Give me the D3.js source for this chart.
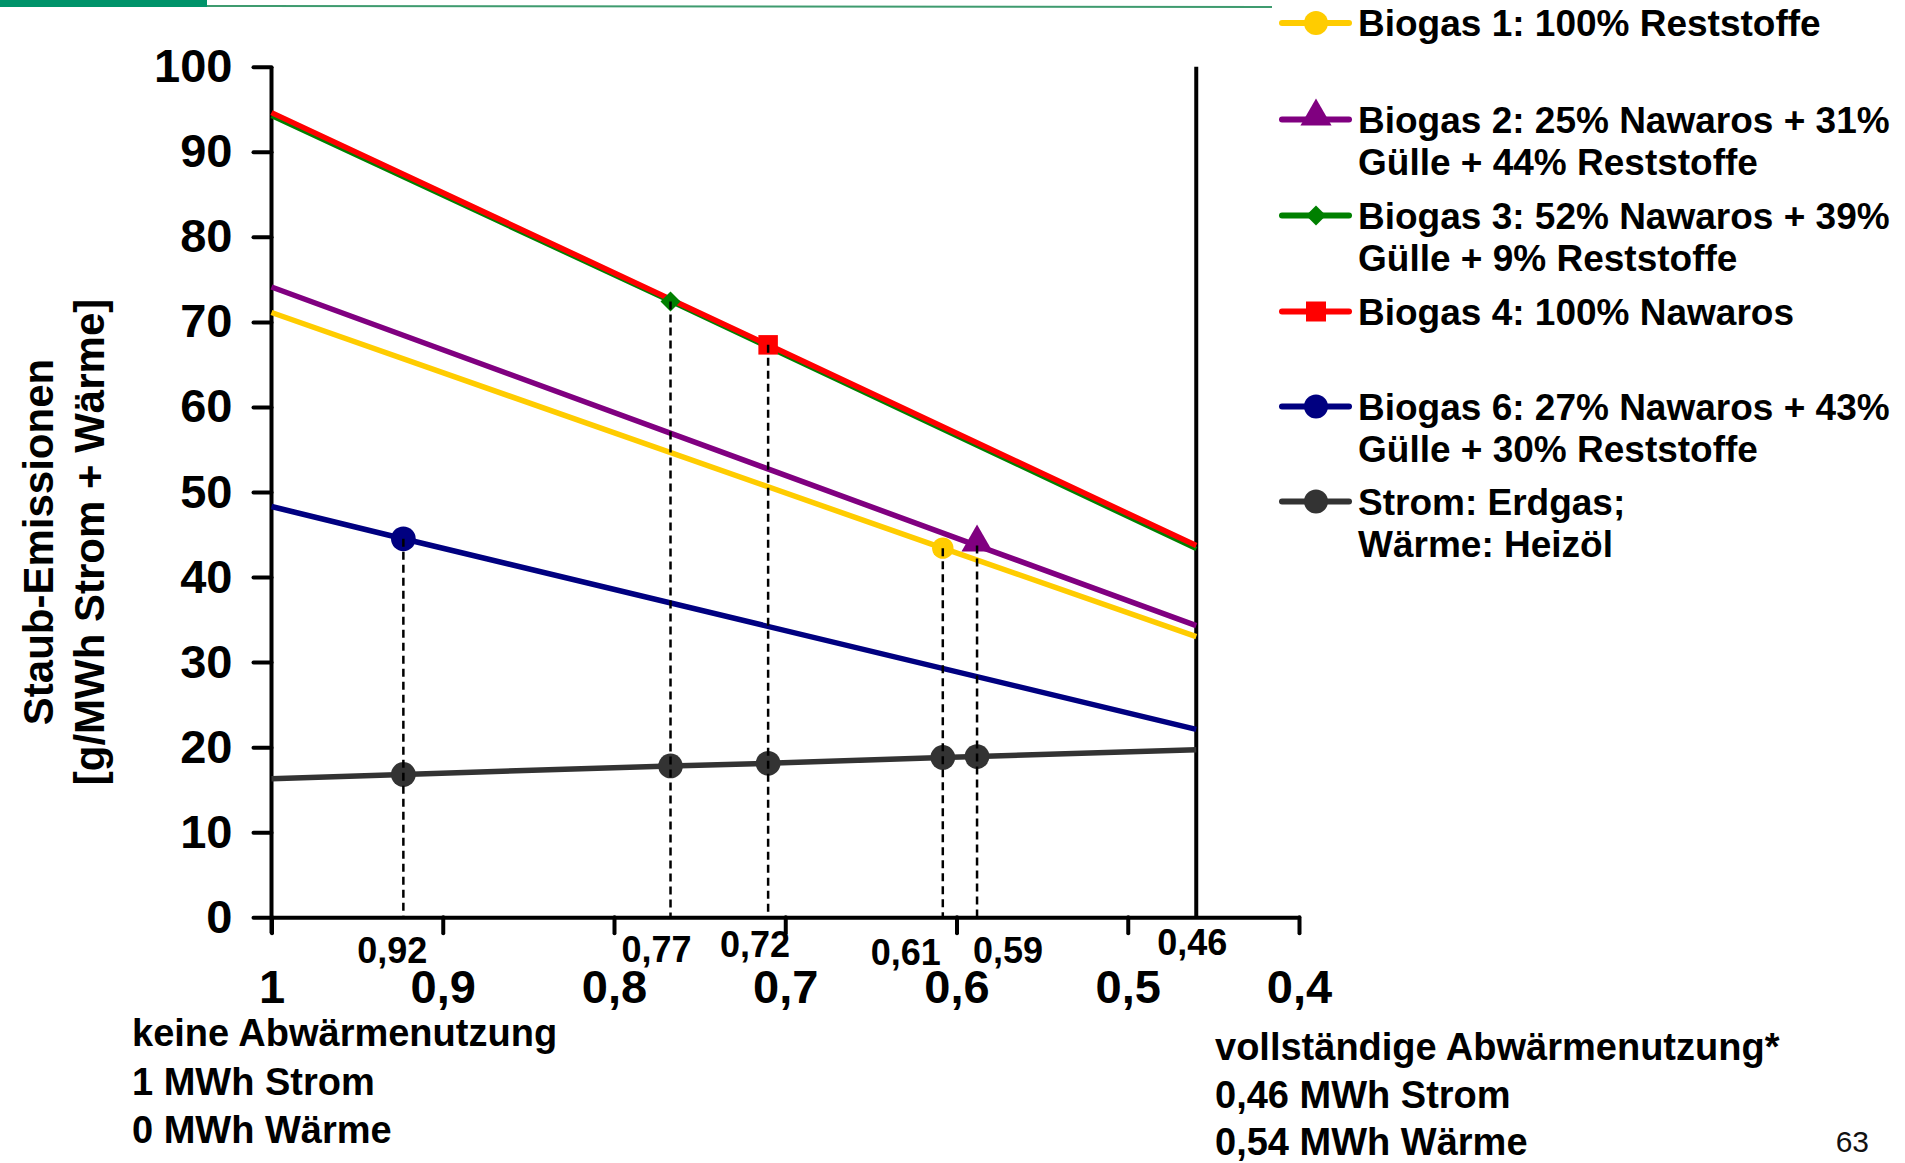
<!DOCTYPE html>
<html><head><meta charset="utf-8">
<script src="https://cdn.jsdelivr.net/npm/d3@7"></script>
<style>
html,body{margin:0;padding:0;background:#fff;overflow:hidden;}
svg{display:block;font-family:"Liberation Sans",Arial,Helvetica,sans-serif;}
</style></head><body>
<svg id="chart" width="1905" height="1163"></svg>
<script>
// ---------------- DATA ----------------
const seriesNames = [
  ["Biogas 1: 100% Reststoffe"],
  ["Biogas 2: 25% Nawaros + 31%", "Gülle + 44% Reststoffe"],
  ["Biogas 3: 52% Nawaros + 39%", "Gülle + 9% Reststoffe"],
  ["Biogas 4: 100% Nawaros"],
  ["Biogas 6: 27% Nawaros + 43%", "Gülle + 30% Reststoffe"],
  ["Strom: Erdgas;", "Wärme: Heizöl"]
];
const seriesColors = ["#FFCC00", "#800080", "#008000", "#FF0000", "#000080", "#333333"];
const seriesSymbols = ["circle", "triangle", "diamond", "square", "circle", "circle"];

// x = MWh Strom (1 → 0.46), y = Staub-Emissionen [g/MWh]
const biogas1X = [1, 0.608, 0.46];
const biogas1Y = [71.1, 43.4, 33.0];
const biogas2X = [1, 0.588, 0.46];
const biogas2Y = [74.1, 43.7, 34.3];
const biogas3X = [1, 0.767, 0.46];
const biogas3Y = [94.2, 72.4, 43.3];
const biogas4X = [1, 0.71, 0.46];
const biogas4Y = [94.6, 67.3, 43.7];
const biogas6X = [1, 0.923, 0.46];
const biogas6Y = [48.3, 44.5, 22.1];
const stromX = [1, 0.923, 0.767, 0.71, 0.608, 0.588, 0.46];
const stromY = [16.3, 16.8, 17.8, 18.1, 18.8, 18.9, 19.7];

// indices of points that carry a marker
const markerIdx = [[1], [1], [1], [1], [1], [1, 2, 3, 4, 5]];

const xTicks = [1, 0.9, 0.8, 0.7, 0.6, 0.5, 0.4];
const xTickLabels = ["1", "0,9", "0,8", "0,7", "0,6", "0,5", "0,4"];
const yTicks = [0, 10, 20, 30, 40, 50, 60, 70, 80, 90, 100];
const yTickLabels = ["0", "10", "20", "30", "40", "50", "60", "70", "80", "90", "100"];

const fullUseX = 0.46;
const markValues = [0.923, 0.767, 0.71, 0.608, 0.588, 0.46];
const markLabels = ["0,92", "0,77", "0,72", "0,61", "0,59", "0,46"];

const yTitle = ["Staub-Emissionen", "[g/MWh Strom + Wärme]"];
const leftNote = ["keine Abwärmenutzung", "1 MWh Strom", "0 MWh Wärme"];
const rightNote = ["vollständige Abwärmenutzung*", "0,46 MWh Strom", "0,54 MWh Wärme"];
const pageNumber = "63";

// ---------------- LAYOUT ----------------
const markLabelDx = [-11, -14, -13, -37, 31, -4];
const markLabelDy = [46, 45, 40, 48, 46, 38];
const legendRowsY = [23, 119.5, 215.5, 311.5, 406.5, 501.5];

const seriesX = [biogas1X, biogas2X, biogas3X, biogas4X, biogas6X, stromX];
const seriesY = [biogas1Y, biogas2Y, biogas3Y, biogas4Y, biogas6Y, stromY];
const series = seriesNames.map((n, i) => ({
  name: n, color: seriesColors[i], symbol: seriesSymbols[i],
  points: seriesX[i].map((xv, j) => [xv, seriesY[i][j]]),
  markers: markerIdx[i].map(j => [seriesX[i][j], seriesY[i][j]])
}));

const svg = d3.select("#chart");
const x = d3.scaleLinear().domain([1, 0.4]).range([271.5, 1299]);
const y = d3.scaleLinear().domain([0, 100]).range([917.3, 66.7]);

// header bar
svg.append("rect").attr("x", 0).attr("y", 0).attr("width", 207).attr("height", 7).attr("fill", "#00936a");
svg.append("line").attr("x1", 207).attr("x2", 1272).attr("y1", 6).attr("y2", 7)
  .attr("stroke", "#3f9b6f").attr("stroke-width", 2);

// axes
const yAxis = d3.axisLeft(y).tickValues(yTicks).tickFormat((d, i) => yTickLabels[i])
  .tickSize(18).tickSizeOuter(0).tickPadding(21);
const gy = svg.append("g").attr("transform", `translate(${x(1)},0)`).call(yAxis);
const xAxis = d3.axisBottom(x).tickValues(xTicks).tickFormat((d, i) => xTickLabels[i])
  .tickSize(16).tickSizeOuter(0).tickPadding(36);
const gx = svg.append("g").attr("transform", `translate(0,${y(0)})`).call(xAxis);
[gy, gx].forEach(g => {
  g.selectAll("path.domain").attr("stroke", "#000").attr("stroke-width", 4);
  g.selectAll(".tick line").attr("stroke", "#000").attr("stroke-width", 4).attr("stroke-linecap", "round");
  g.selectAll(".tick text").attr("fill", "#000").attr("font-size", 47).attr("font-weight", "bold")
    .attr("font-family", "'Liberation Sans', Arial, sans-serif");
});
// extend y axis down to the "1" tick
gy.select("path.domain").attr("d", `M0,${y(100)}V${y(0) + 16}`);

// vertical line at full heat usage
svg.append("line").attr("x1", x(fullUseX)).attr("x2", x(fullUseX))
  .attr("y1", y(100)).attr("y2", y(0)).attr("stroke", "#000").attr("stroke-width", 4);

// series lines (draw order: gray, navy, yellow, purple, green, red)
const order = [5, 4, 0, 1, 2, 3];
const line = d3.line().x(d => x(d[0])).y(d => y(d[1]));
const symType = {circle: d3.symbolCircle, triangle: d3.symbolTriangle, diamond: d3.symbolSquare, square: d3.symbolSquare};
const symSizeLegend = {circle: 452, triangle: 420, diamond: 200, square: 400};
const symSizeChart = [360, 420, 200, 380, 480, 480];
function symbolPath(s, size) {
  return d3.symbol().type(symType[s]).size(size)();
}
function symTransform(s, px, py) {
  return `translate(${px},${py})` + (s === "diamond" ? " rotate(45)" : "") + (s === "triangle" ? " translate(0,-3)" : "");
}
order.forEach(i => {
  const s = series[i];
  svg.append("path").datum(s.points).attr("d", line).attr("fill", "none")
    .attr("stroke", s.color).attr("stroke-width", i === 2 ? 4.5 : 5.5);
});
order.forEach(i => {
  const s = series[i];
  svg.selectAll(null).data(s.markers).enter().append("path")
    .attr("d", symbolPath(s.symbol, symSizeChart[i]))
    .attr("transform", d => symTransform(s.symbol, x(d[0]), y(d[1])))
    .attr("fill", s.color);
});

// dashed drop lines from the biogas markers
const drops = series.slice(0, 5).map(s => s.markers[0]);
svg.selectAll(null).data(drops).enter().append("line")
  .attr("x1", d => x(d[0])).attr("x2", d => x(d[0]))
  .attr("y1", d => y(d[1])).attr("y2", y(0))
  .attr("stroke", "#000").attr("stroke-width", 2.5).attr("stroke-dasharray", "8,5");

// small value labels
svg.selectAll(null).data(markValues).enter().append("text")
  .attr("x", (d, i) => x(d) + markLabelDx[i]).attr("y", (d, i) => y(0) + markLabelDy[i])
  .attr("text-anchor", "middle").attr("font-size", 36).attr("font-weight", "bold")
  .text((d, i) => markLabels[i]);

// y axis title
svg.append("text").attr("transform", "translate(53,542) rotate(-90)").attr("text-anchor", "middle")
  .attr("font-size", 42).attr("font-weight", "bold").text(yTitle[0]);
svg.append("text").attr("transform", "translate(104,542) rotate(-90)").attr("text-anchor", "middle")
  .attr("font-size", 42).attr("font-weight", "bold").text(yTitle[1]);

// bottom notes
const leftBase = [1046, 1095, 1143];
leftNote.forEach((t, i) => svg.append("text").attr("x", 132).attr("y", leftBase[i])
  .attr("font-size", 38).attr("font-weight", "bold").text(t));
const rightBase = [1060, 1108, 1155];
rightNote.forEach((t, i) => svg.append("text").attr("x", 1215).attr("y", rightBase[i])
  .attr("font-size", 38).attr("font-weight", "bold").text(t));
svg.append("text").attr("x", 1869).attr("y", 1152).attr("text-anchor", "end")
  .attr("font-size", 30).attr("fill", "#111").text(pageNumber);

// legend
const lg = svg.append("g");
series.forEach((s, i) => {
  const ry = legendRowsY[i];
  lg.append("line").attr("x1", 1282).attr("x2", 1349).attr("y1", ry).attr("y2", ry)
    .attr("stroke", s.color).attr("stroke-width", 6).attr("stroke-linecap", "round");
  lg.append("path").attr("d", symbolPath(s.symbol, symSizeLegend[s.symbol]))
    .attr("transform", symTransform(s.symbol, 1316, ry))
    .attr("fill", s.color);
  s.name.forEach((t, k) => {
    lg.append("text").attr("x", 1358).attr("y", ry + 13.4 + k * 42.5)
      .attr("font-size", 37).attr("font-weight", "bold").text(t);
  });
});
</script>
</body></html>
